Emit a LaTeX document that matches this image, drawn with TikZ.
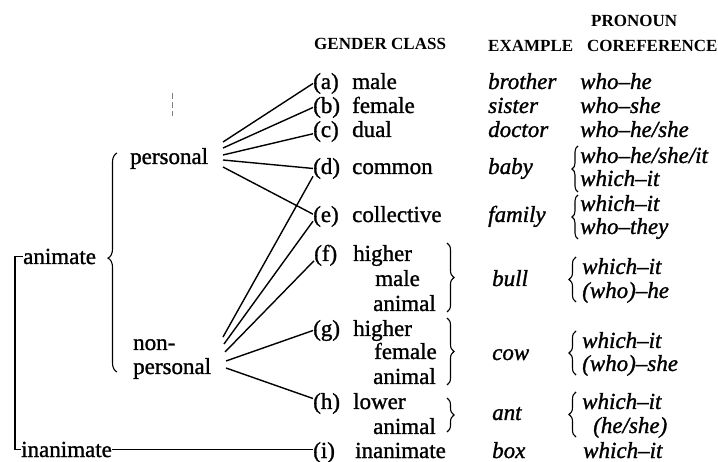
\documentclass[tikz,border=0pt]{standalone}
\usepackage{fontspec}
\setmainfont{Liberation Serif}
\newfontfamily\bodyfont{Liberation Serif}[FakeBold=1.2, ItalicFeatures={FakeBold=1.2}]
\newfontfamily\hdrfont{Liberation Serif Bold}
\usetikzlibrary{decorations.pathreplacing}
\begin{document}
\begin{tikzpicture}[x=1pt,y=-1pt,
  txt/.style={inner sep=0pt, anchor=base west, font=\fontsize{23}{24}\bodyfont},
  itx/.style={inner sep=0pt, anchor=base west, font=\fontsize{23}{24}\bodyfont\itshape},
  hdr/.style={inner sep=0pt, anchor=base west, font=\fontsize{17}{18}\hdrfont},
  conn/.style={line width=1.4pt},
  brc/.style={decorate, decoration={brace, amplitude=#1}, line width=1.1pt},
  brc/.default=6pt]
\useasboundingbox (0,0) rectangle (718,462);

% headers
\node[hdr] (hpro) at (591,27) {PRONOUN};
\node[hdr] (hcor) at (587,52) {COREFERENCE};
\node[hdr] (hgen) at (314,50) {GENDER CLASS};
\node[hdr] (hexa) at (488,52) {EXAMPLE};

% left tree
\node[txt] (animate) at (23,264) {animate};
\node[txt] (inanimate) at (21,457) {inanimate};
\node[txt] (pers) at (130,164) {personal};
\node[txt] (non) at (133,350) {non-};
\node[txt] (npers) at (133,374) {personal};

\draw[line width=1.3pt] (animate.west) -- ++(-8,0) |- (inanimate.west);
\draw[brc=9pt, decoration={aspect=0.52}] (117,372) -- (117,153);

% scan mark
\draw[line width=0.6pt, gray, dash pattern=on 6pt off 3pt] (172,93) -- (172,116);

% gender class labels
\node[txt] (la) at (313,89) {(a)};  \node[txt] (wa) at (352,89) {male};
\node[txt] (lb) at (313,113) {(b)}; \node[txt] (wb) at (352,113) {female};
\node[txt] (lc) at (313,137) {(c)}; \node[txt] (wc) at (352,137) {dual};
\node[txt] (ld) at (313,174) {(d)}; \node[txt] (wd) at (352,174) {common};
\node[txt] (le) at (313,222) {(e)}; \node[txt] (we) at (352,222) {collective};
\node[txt] (lf) at (314,261) {(f)}; \node[txt] (wf) at (353,261) {higher};
\node[txt] (wf2) at (375,286) {male};
\node[txt] (wf3) at (373,311) {animal};
\node[txt] (lg) at (313,336) {(g)}; \node[txt] (wg) at (353,336) {higher};
\node[txt] (wg2) at (374,359) {female};
\node[txt] (wg3) at (373,384) {animal};
\node[txt] (lh) at (313,409) {(h)}; \node[txt] (wh) at (353,409) {lower};
\node[txt] (wh2) at (373,434) {animal};
\node[txt] (li) at (313,458) {(i)}; \node[txt] (wi) at (355,458) {inanimate};

\draw[brc=7pt] (447,243) -- (447,312);
\draw[brc=7pt] (447,318) -- (447,385);
\draw[brc=7pt] (447,398) -- (447,432);

% examples
\node[itx] (ea) at (488,89) {brother};
\node[itx] (eb) at (488,113) {sister};
\node[itx] (ec) at (488,137) {doctor};
\node[itx] (ed) at (488,174) {baby};
\node[itx] (ee) at (488,222) {family};
\node[itx] (ef) at (492,286) {bull};
\node[itx] (eg) at (492,360) {cow};
\node[itx] (eh) at (492,420) {ant};
\node[itx] (ei) at (492,458) {box};

% pronoun coreference
\node[itx] (pa) at (580,89) {who–he};
\node[itx] (pb) at (580,113) {who–she};
\node[itx] (pc) at (580,137) {who–he/she};
\node[itx] (pd1) at (580,163) {who–he/she/it};
\node[itx] (pd2) at (580,186) {which–it};
\node[itx] (pe1) at (580,211) {which–it};
\node[itx] (pe2) at (580,234) {who–they};
\node[itx] (pf1) at (582,274) {which–it};
\node[itx] (pf2) at (582,298) {(who)–he};
\node[itx] (pg1) at (582,348) {which–it};
\node[itx] (pg2) at (582,371) {(who)–she};
\node[itx] (ph1) at (582,409) {which–it};
\node[itx] (ph2) at (593,433) {(he/she)};
\node[itx] (pi) at (583,458) {which–it};

\draw[brc=6pt] (578,192) -- (578,146);
\draw[brc=6pt] (578,239) -- (578,195);
\draw[brc=7pt] (576,302) -- (576,257);
\draw[brc=7pt] (576,375) -- (576,331);
\draw[brc=7pt] (576,437) -- (576,392);

% fan from personal
\coordinate (ps1) at (223,142);
\coordinate (ps2) at (223,148);
\coordinate (ps3) at (223,155);
\coordinate (ps4) at (223,160);
\coordinate (ps5) at (223,167);
\draw[conn] (ps1) -- (la.west);
\draw[conn] (ps2) -- (lb.west);
\draw[conn] (ps3) -- (lc.190);
\draw[conn] (ps4) -- (ld.west);
\draw[conn] (ps5) -- (le.170);

% fan from non-personal
\coordinate (ns1) at (223,337);
\coordinate (ns2) at (224,344);
\coordinate (ns3) at (225,352);
\coordinate (ns4) at (226,361);
\coordinate (ns5) at (226,368);
\draw[conn] (ns1) -- (ld.210);
\draw[conn] (ns2) -- (le.200);
\draw[conn] (ns3) -- (lf.205);
\draw[conn] (ns4) -- (lg.west);
\draw[conn] (ns5) -- (lh.160);

% inanimate
\draw[conn] (inanimate.east) -- (inanimate.east -| li.west);
\end{tikzpicture}
\end{document}
